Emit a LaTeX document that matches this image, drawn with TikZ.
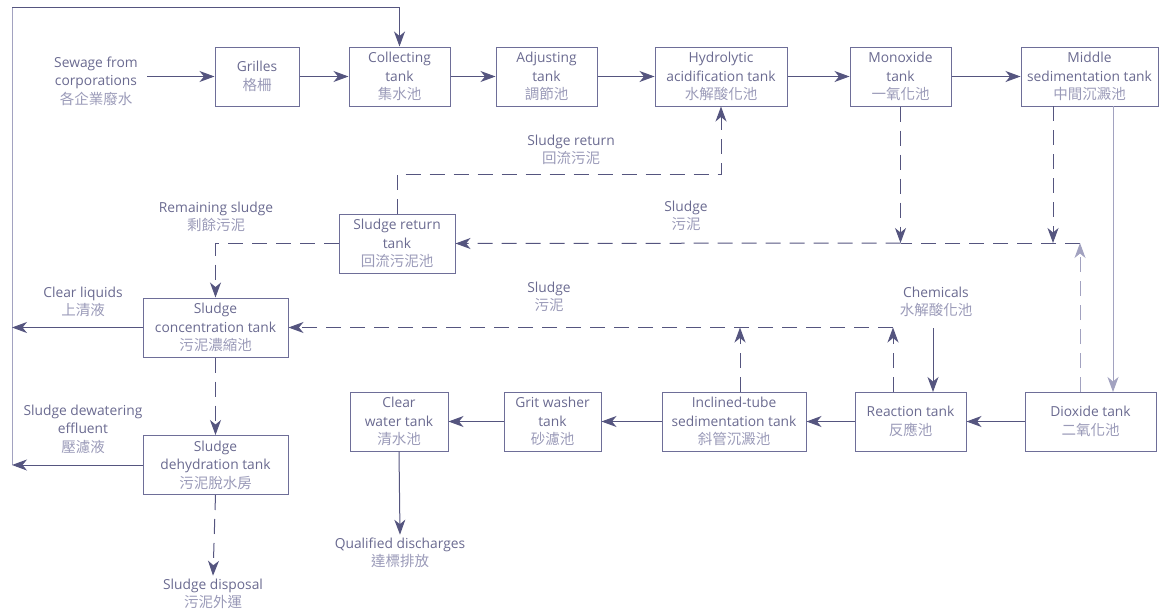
\documentclass[tikz,border=0pt]{standalone}
\usepackage{fontspec}
\setmainfont{Open Sans}
\newfontfamily\cjkfont{Noto Sans CJK TC}
\usetikzlibrary{arrows.meta,calc}
\definecolor{ln}{HTML}{55557F}
\definecolor{lnlight}{HTML}{A2A2C0}
\definecolor{bx}{HTML}{6E6E98}
\definecolor{tx}{HTML}{6A6A90}
\definecolor{zh}{HTML}{9A9AB8}
\newcommand{\zhtxt}[1]{{\cjkfont\fontsize{14.5}{18.5}\selectfont\color{zh}#1}}
\begin{document}
\begin{tikzpicture}[x=1pt,y=-1pt,
  font=\fontsize{13.8}{18.5}\selectfont,
  box/.style={draw=bx, line width=1pt, inner sep=0pt, minimum height=59pt, align=center, text=tx},
  lbl/.style={align=center, text=tx, inner sep=1pt},
  arr/.style={draw=ln, line width=1pt, -{Stealth[length=15pt,width=11pt,inset=4.5pt]}},
  larr/.style={arr, draw=lnlight},
  darr/.style={arr, dash pattern=on 15pt off 9pt},
  ldarr/.style={darr, draw=lnlight},
  dln/.style={draw=ln, line width=1pt, dash pattern=on 15pt off 9pt},
  sln/.style={draw=lnlight, line width=1pt}]
\useasboundingbox (0,0) rectangle (1161,613);

% boxes
\node[box, minimum width=84pt]  (grilles) at (257,76.5)   {Grilles\\\zhtxt{格柵}};
\node[box, minimum width=101pt] (collect) at (399.5,76.5) {Collecting\\tank\\\zhtxt{集水池}};
\node[box, minimum width=101pt] (adjust)  at (546.5,76.5) {Adjusting\\tank\\\zhtxt{調節池}};
\node[box, minimum width=132pt] (hydro)   at (721,76.5)   {Hydrolytic\\acidification tank\\\zhtxt{水解酸化池}};
\node[box, minimum width=101pt] (mono)    at (900.5,76.5) {Monoxide\\tank\\\zhtxt{一氧化池}};
\node[box, minimum width=137pt] (middle)  at (1089.5,76.5){Middle\\sedimentation tank\\\zhtxt{中間沉澱池}};
\node[box, minimum width=116pt] (srt)     at (397,243.5)  {Sludge return\\tank\\\zhtxt{回流污泥池}};
\node[box, minimum width=145pt] (conc)    at (215.5,327.5){Sludge\\concentration tank\\\zhtxt{污泥濃縮池}};
\node[box, minimum width=145pt] (dehyd)   at (215.5,465)  {Sludge\\dehydration tank\\\zhtxt{污泥脫水房}};
\node[box, minimum width=98pt]  (clear)   at (399,421.5)  {Clear\\water tank\\\zhtxt{清水池}};
\node[box, minimum width=97pt]  (grit)    at (552.5,421.5){Grit washer\\tank\\\zhtxt{砂濾池}};
\node[box, minimum width=144pt] (incl)    at (734,421.5)  {Inclined-tube\\sedimentation tank\\\zhtxt{斜管沉澱池}};
\node[box, minimum width=111pt] (react)   at (910.5,421.5){Reaction tank\\\zhtxt{反應池}};
\node[box, minimum width=131pt] (diox)    at (1090.5,421.5){Dioxide tank\\\zhtxt{二氧化池}};

% labels
\node[lbl] (sewage)  at (96,81)   {Sewage from\\corporations\\\zhtxt{各企業廢水}};
\node[lbl] (remain)  at (216,217) {Remaining sludge\\\zhtxt{剩餘污泥}};
\node[lbl] (sret)    at (571,150) {Sludge return\\\zhtxt{回流污泥}};
\node[lbl] (sludgeA) at (686,216) {Sludge\\\zhtxt{污泥}};
\node[lbl] (sludgeB) at (549,297) {Sludge\\\zhtxt{污泥}};
\node[lbl] (clearliq) at (83,302) {Clear liquids\\\zhtxt{上清液}};
\node[lbl] (dewater) at (83,429)  {Sludge dewatering\\effluent\\\zhtxt{壓濾液}};
\node[lbl] (chem)    at (936,302) {Chemicals\\\zhtxt{水解酸化池}};
\node[lbl, inner sep=3pt] (dispose) at (213,594) {Sludge disposal\\\zhtxt{污泥外運}};
\node[lbl, inner sep=3pt] (qual)    at (400,553) {Qualified discharges\\\zhtxt{達標排放}};

% coordinates
\coordinate (sewst) at (147,76.5);
\coordinate (retb) at (12,465);
\coordinate (rett) at (12,7);
\coordinate (hturn) at (721,174);
\coordinate (monoend) at (900.5,243);
\coordinate (midA) at (1053,106);
\coordinate (midAend) at (1053,243);
\coordinate (midB) at (1113,106);
\coordinate (dioxB) at (1113,392);
\coordinate (dioxA) at (1080,392);
\coordinate (corA) at (1080,243);
\coordinate (chemst) at (933,328);
\coordinate (reactC) at (933,392);
\coordinate (reactA) at (893,392);
\coordinate (corB) at (893,327.5);
\coordinate (inclA) at (740,392);
\coordinate (inclAend) at (740,327.5);

% top row
\draw[arr] (sewst) -- (grilles.west);
\draw[arr] (grilles) -- (collect);
\draw[arr] (collect) -- (adjust);
\draw[arr] (adjust) -- (hydro);
\draw[arr] (hydro) -- (mono);
\draw[arr] (mono) -- (middle);

% return line on the left
\draw[sln] (retb) -- (rett);
\draw[arr] (rett) -| (collect.north);
\draw[arr] (conc.west) -- (conc.west -| retb);
\draw[arr] (dehyd.west) -- (retb);

% sludge lines
\draw[darr] (srt.west) -| (conc.north);
\draw[darr] (srt.north) |- (hturn) -- (hydro.south);
\draw[darr] (mono.south) -- (monoend);
\draw[darr] (midA) -- (midAend);
\draw[dln] (corA) -- (monoend);
\draw[darr] (monoend) -- (srt.east);
\draw[ldarr] (dioxA) -- (corA);
\draw[larr] (midB) -- (dioxB);

% lower row
\draw[arr] (chemst) -- (reactC);
\draw[arr] (diox) -- (react);
\draw[arr] (react) -- (incl);
\draw[arr] (incl) -- (grit);
\draw[arr] (grit) -- (clear);
\draw[arr] (clear.south) -- (qual.north);
\draw[darr] (reactA) -- (corB);
\draw[darr] (inclA) -- (inclAend);
\draw[darr] (corB) -- (conc.east);
\draw[darr] (conc.south) -- (dehyd.north);
\draw[darr] (dehyd.south) -- (dispose.north);
\end{tikzpicture}
\end{document}
